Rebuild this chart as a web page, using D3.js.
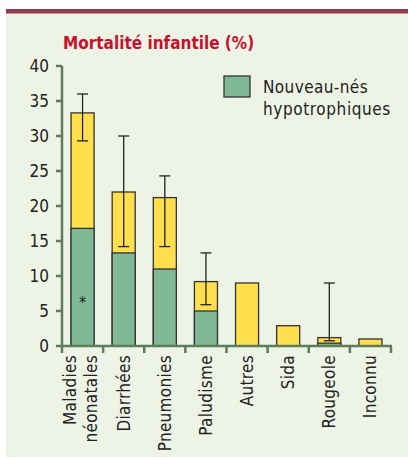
<!DOCTYPE html>
<html>
<head>
<meta charset="utf-8">
<script src="https://cdn.jsdelivr.net/npm/d3@7"></script>
<style>
  body { margin: 0; background: #fff; }
  svg { display: block; }
  text { font-family: "DejaVu Sans Condensed", "DejaVu Sans", sans-serif; }
</style>
</head>
<body>
<div id="chart"></div>
<script>
// données
var causes = [["Maladies", "néonatales"], ["Diarrhées"], ["Pneumonies"], ["Paludisme"], ["Autres"], ["Sida"], ["Rougeole"], ["Inconnu"]];
var hypotrophiques = [16.8, 13.3, 11.0, 5.0, 0, 0, 0.4, 0];
var totaux = [33.3, 22.0, 21.2, 9.2, 9.0, 2.9, 1.2, 1.0];
var erreurBas = [29.3, 14.2, 14.2, 5.9, null, null, 0.75, null];
var erreurHaut = [36.0, 30.0, 24.3, 13.3, null, null, 9.0, null];
var yTicks = [0, 5, 10, 15, 20, 25, 30, 35, 40];

var W = 408, H = 458;
var vert = "#7fb995", jaune = "#ffdf4b", axe = "#5d7d5b";

var svg = d3.select("#chart").append("svg")
    .attr("width", W)
    .attr("height", H);

// fond du panneau
svg.append("rect")
    .attr("x", 6).attr("y", 9)
    .attr("width", W - 6).attr("height", 448)
    .attr("fill", "#eef4e5");
svg.append("rect")
    .attr("x", 6).attr("y", 9)
    .attr("width", W - 6).attr("height", 4.5)
    .attr("fill", "#8e3b4b");

var x = d3.scaleBand()
    .domain(d3.range(causes.length))
    .range([62, 391]);
var y = d3.scaleLinear().domain([0, 40]).range([346, 66]);
var bw = x.bandwidth() * 0.56;

// titre
svg.append("text")
    .attr("x", 63).attr("y", 49)
    .attr("fill", "#c8102e")
    .attr("font-weight", "bold")
    .attr("font-size", 17)
    .text("Mortalité infantile (%)");

// barres
var barres = svg.append("g");
causes.forEach(function (c, i) {
    var cx = x(i) + x.bandwidth() / 2;
    barres.append("rect")
        .attr("x", cx - bw / 2)
        .attr("y", y(totaux[i]))
        .attr("width", bw)
        .attr("height", y(0) - y(totaux[i]))
        .attr("fill", jaune)
        .attr("stroke", "#333")
        .attr("stroke-width", 1.3);
    if (hypotrophiques[i] > 0) {
        barres.append("rect")
            .attr("x", cx - bw / 2)
            .attr("y", y(hypotrophiques[i]))
            .attr("width", bw)
            .attr("height", y(0) - y(hypotrophiques[i]))
            .attr("fill", vert)
            .attr("stroke", "#333")
            .attr("stroke-width", 1.3);
    }
    if (erreurHaut[i] != null) {
        var e = barres.append("g").attr("stroke", "#222").attr("stroke-width", 1.3);
        e.append("line")
            .attr("x1", cx).attr("x2", cx)
            .attr("y1", y(erreurHaut[i])).attr("y2", y(erreurBas[i]));
        [erreurHaut[i], erreurBas[i]].forEach(function (v) {
            e.append("line")
                .attr("x1", cx - 5.5).attr("x2", cx + 5.5)
                .attr("y1", y(v)).attr("y2", y(v));
        });
    }
});

// astérisque
svg.append("text")
    .attr("x", x(0) + x.bandwidth() / 2)
    .attr("y", y(6.6) + 8)
    .attr("text-anchor", "middle")
    .attr("font-size", 16)
    .attr("fill", "#222")
    .text("*");

// axe y
var gy = svg.append("g");
gy.append("line")
    .attr("x1", 62).attr("x2", 62)
    .attr("y1", y(40)).attr("y2", y(0) + 1)
    .attr("stroke", axe).attr("stroke-width", 2.5);
gy.selectAll("line.tick")
    .data(yTicks)
    .join("line")
    .attr("class", "tick")
    .attr("x1", 56).attr("x2", 62)
    .attr("y1", d => y(d)).attr("y2", d => y(d))
    .attr("stroke", axe).attr("stroke-width", 2.5);
gy.selectAll("text")
    .data(yTicks)
    .join("text")
    .attr("x", 49)
    .attr("y", d => y(d) + 6)
    .attr("text-anchor", "end")
    .attr("font-size", 17)
    .attr("fill", "#222")
    .text(d => d);

// axe x
var gx = svg.append("g");
gx.append("line")
    .attr("x1", 61).attr("x2", 392)
    .attr("y1", y(0)).attr("y2", y(0))
    .attr("stroke", axe).attr("stroke-width", 2.5);
gx.selectAll("line.tick")
    .data(d3.range(causes.length + 1))
    .join("line")
    .attr("class", "tick")
    .attr("x1", d => 62 + d * x.step()).attr("x2", d => 62 + d * x.step())
    .attr("y1", y(0)).attr("y2", y(0) + 7)
    .attr("stroke", axe).attr("stroke-width", 2.5);

causes.forEach(function (c, i) {
    var cx = x(i) + x.bandwidth() / 2;
    c.forEach(function (ligne, j) {
        var bx = cx + 6 + (j - (c.length - 1) / 2) * 21 - (c.length - 1) * 2;
        svg.append("text")
            .attr("transform", "translate(" + bx + ",355) rotate(-90)")
            .attr("text-anchor", "end")
            .attr("font-size", 17)
            .attr("letter-spacing", 0.3)
            .attr("fill", "#222")
            .text(ligne);
    });
});

// légende
svg.append("rect")
    .attr("x", 224).attr("y", 76)
    .attr("width", 26).attr("height", 21)
    .attr("fill", vert)
    .attr("stroke", "#333")
    .attr("stroke-width", 1.3);
svg.append("text")
    .attr("x", 263).attr("y", 93)
    .attr("font-size", 17)
    .attr("letter-spacing", 0.4)
    .attr("fill", "#222")
    .text("Nouveau-nés");
svg.append("text")
    .attr("x", 263).attr("y", 115)
    .attr("font-size", 17)
    .attr("letter-spacing", 0.6)
    .attr("fill", "#222")
    .text("hypotrophiques");
</script>
</body>
</html>
